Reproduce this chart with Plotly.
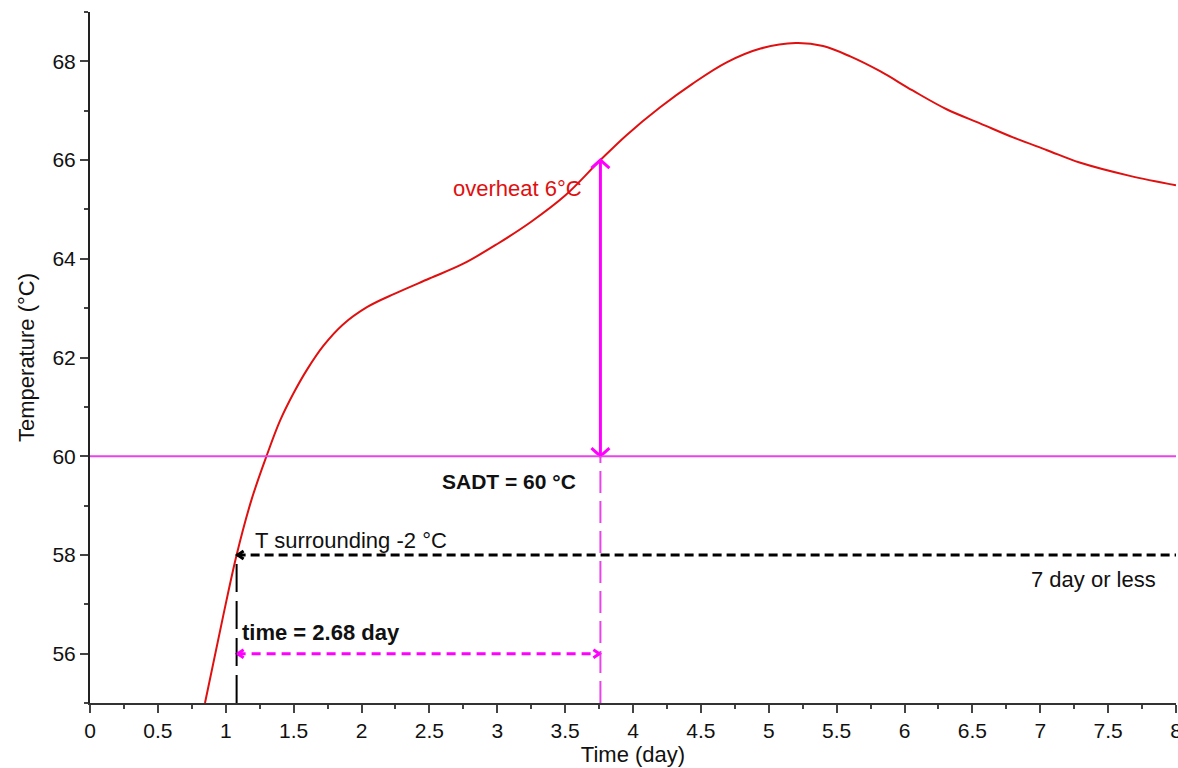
import plotly.graph_objects as go

# Temperature history of the package (day, °C)
time_day = [0.847, 0.98, 1.08, 1.19, 1.3, 1.4, 1.5, 1.6, 1.72, 1.86, 2.04, 2.25,
            2.5, 2.75, 3.0, 3.25, 3.5, 3.76, 3.95, 4.2, 4.44, 4.69, 4.94, 5.2,
            5.4, 5.6, 5.82, 6.06, 6.31, 6.56, 6.8, 7.05, 7.29, 7.66, 8.0]
temp_c = [55.0, 56.75, 58.0, 59.12, 60.0, 60.72, 61.28, 61.76, 62.24, 62.66, 63.02, 63.3,
          63.6, 63.9, 64.3, 64.75, 65.28, 66.0, 66.5, 67.07, 67.55, 67.98, 68.26, 68.37,
          68.31, 68.1, 67.8, 67.41, 67.03, 66.74, 66.46, 66.2, 65.95, 65.68, 65.49]

# Key levels
sadt = 60.0
t_surrounding = 58.0
t_overheat = 66.0
t_marker = 56.0
t_start = 1.08
t_end = 3.76

x_ticks = [0, 0.5, 1, 1.5, 2, 2.5, 3, 3.5, 4, 4.5, 5, 5.5, 6, 6.5, 7, 7.5, 8]
x_ticklabels = ["0", "0.5", "1", "1.5", "2", "2.5", "3", "3.5", "4", "4.5", "5",
                "5.5", "6", "6.5", "7", "7.5", "8"]
y_ticks = [56, 58, 60, 62, 64, 66, 68]
y_ticklabels = ["56", "58", "60", "62", "64", "66", "68"]

X_RANGE = [0, 8]
Y_RANGE = [55, 69]
W, H = 1178, 768
ML, MR, MT, MB = 90, 2, 12, 65
px_x = (X_RANGE[1] - X_RANGE[0]) / (W - ML - MR)
px_y = (Y_RANGE[1] - Y_RANGE[0]) / (H - MT - MB)

FONT = "Liberation Sans, Arial, sans-serif"
MAGENTA = "#FF00FF"
SADT_COLOR = "#E845E8"
RED = "#E01010"
TXT = 22

fig = go.Figure()

fig.add_trace(go.Scatter(x=time_day, y=temp_c, mode="lines",
                         line=dict(color=RED, width=2, shape="spline", smoothing=1.0),
                         hoverinfo="skip", showlegend=False))

shapes = []
# SADT level
shapes.append(dict(type="line", xref="x", yref="y", x0=X_RANGE[0], x1=X_RANGE[1],
                   y0=sadt, y1=sadt, line=dict(color=SADT_COLOR, width=2)))
# overheat arrow shaft
shapes.append(dict(type="line", xref="x", yref="y", x0=t_end, x1=t_end,
                   y0=sadt, y1=t_overheat, line=dict(color=MAGENTA, width=3)))
# dashed drop below SADT
shapes.append(dict(type="line", xref="x", yref="y", x0=t_end, x1=t_end,
                   y0=Y_RANGE[0], y1=sadt, line=dict(color=SADT_COLOR, width=2, dash="22px,8px")))
# surrounding temperature level
shapes.append(dict(type="line", xref="x", yref="y", x0=t_start, x1=X_RANGE[1],
                   y0=t_surrounding, y1=t_surrounding,
                   line=dict(color="black", width=3, dash="9px,5px")))
# drop from the surrounding-temperature crossing
shapes.append(dict(type="line", xref="x", yref="y", x0=t_start, x1=t_start,
                   y0=Y_RANGE[0], y1=t_surrounding,
                   line=dict(color="black", width=2, dash="28px,9px")))
# time span
shapes.append(dict(type="line", xref="x", yref="y", x0=t_start, x1=t_end,
                   y0=t_marker, y1=t_marker,
                   line=dict(color=MAGENTA, width=3, dash="9px,6px")))


def chevron(tip_x, tip_y, dx_px, dy_px, color, width):
    """Open arrowhead: two arms meeting at the tip."""
    xs = [tip_x + dx_px[0] * px_x, tip_x, tip_x + dx_px[1] * px_x]
    ys = [tip_y + dy_px[0] * px_y, tip_y, tip_y + dy_px[1] * px_y]
    fig.add_trace(go.Scatter(x=xs, y=ys, mode="lines",
                             line=dict(color=color, width=width),
                             hoverinfo="skip", showlegend=False))


# overheat double arrow heads
chevron(t_end, t_overheat, (-9, 9), (-8, -8), MAGENTA, 3)
chevron(t_end, sadt, (-9, 9), (8, 8), MAGENTA, 3)
# time span arrow heads
chevron(t_start + 1 * px_x, t_marker, (6, 6), (4, -4), MAGENTA, 3)
chevron(t_end - 1 * px_x, t_marker, (-6, -6), (4, -4), MAGENTA, 3)
# surrounding level arrow head
chevron(t_start + 1 * px_x, t_surrounding, (6, 6), (4, -4), "black", 3)

annotations = [
    dict(text="overheat 6°C", x=2.66, y=65.42, xanchor="left", yanchor="middle",
         font=dict(color=RED, size=TXT, family=FONT)),
    dict(text="<b>SADT = 60 °C</b>", x=2.58, y=59.49, xanchor="left", yanchor="middle",
         font=dict(color="#111", size=TXT - 1, family=FONT)),
    dict(text="T surrounding -2 °C", x=1.2, y=58.3, xanchor="left", yanchor="middle",
         font=dict(color="#111", size=TXT, family=FONT)),
    dict(text="7 day or less", x=6.92, y=57.5, xanchor="left", yanchor="middle",
         font=dict(color="#111", size=TXT, family=FONT)),
    dict(text="<b>time = 2.68 day</b>", x=1.105, y=56.43, xanchor="left", yanchor="middle",
         font=dict(color="#111", size=TXT, family=FONT)),
]
for a in annotations:
    a.update(xref="x", yref="y", showarrow=False)

fig.update_layout(
    width=W, height=H,
    margin=dict(l=ML, r=MR, t=MT, b=MB, autoexpand=False),
    paper_bgcolor="white", plot_bgcolor="white",
    showlegend=False,
    shapes=shapes,
    annotations=annotations,
    font=dict(family=FONT, size=21, color="#111"),
    xaxis=dict(range=X_RANGE, tickvals=x_ticks, ticktext=x_ticklabels,
               ticks="outside", ticklen=8, tickwidth=1.5, tickcolor="#444",
               showline=True, linecolor="#333", linewidth=2, automargin=False,
               showgrid=False, zeroline=False, ticklabeloverflow="allow",
               minor=dict(dtick=0.25, ticks="outside", ticklen=4, tickwidth=1.5,
                          tickcolor="#444", showgrid=False),
               tickfont=dict(size=21, color="#111"),
               title=dict(text="Time (day)", font=dict(size=22, color="#111"), standoff=0)),
    yaxis=dict(range=Y_RANGE, tickvals=y_ticks, ticktext=y_ticklabels,
               ticks="outside", ticklen=8, tickwidth=1.5, tickcolor="#444",
               showline=True, linecolor="#222", linewidth=2, automargin=False,
               showgrid=False, zeroline=False,
               minor=dict(dtick=1, ticks="outside", ticklen=4, tickwidth=1.5,
                          tickcolor="#444", showgrid=False),
               tickfont=dict(size=21, color="#111"),
               title=dict(text="Temperature (°C)", font=dict(size=22, color="#111"), standoff=12)),
)

fig.write_html("out.html")
